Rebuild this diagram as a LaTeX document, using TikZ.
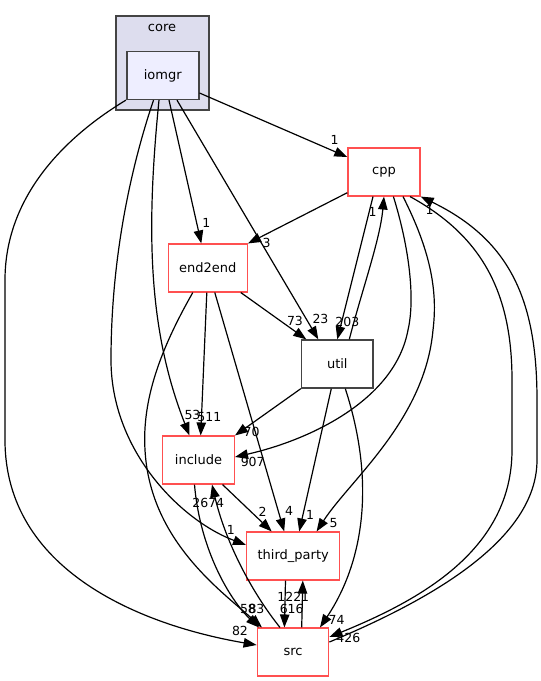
\documentclass[tikz,border=0pt]{standalone}
\usepackage{fontspec}
\setmainfont{DejaVu Sans}
\usetikzlibrary{arrows.meta}
\definecolor{dirred}{RGB}{255,80,80}
\definecolor{dirgray}{RGB}{68,68,68}
\definecolor{clusterfill}{RGB}{221,221,238}
\definecolor{innerfill}{RGB}{238,238,255}
\begin{document}
\begin{tikzpicture}[x=1pt,y=-1pt,
    dirbox/.style={draw=dirred, line width=1.4pt, inner sep=0pt, minimum height=47.7pt,
      font=\fontsize{13}{15}\selectfont},
    edge/.style={line width=1.2pt, -{Triangle[length=13pt,width=9.5pt]}},
    elabel/.style={inner sep=0pt, font=\fontsize{12.5}{14}\selectfont}]
    \useasboundingbox (0,0) rectangle (541,681);

    % Draw the cluster core with iomgr inside
    \node[draw=dirgray, fill=clusterfill, line width=1.6pt, minimum width=93pt, minimum height=94pt] (core) at (162.5,63) {};
    \node[font=\fontsize{13}{15}\selectfont] (corename) at (162,28) {core};
    \node[dirbox, draw=dirgray, fill=innerfill, line width=1.6pt, minimum width=72pt] (iomgr) at (162.7,75.5) {iomgr};

    % Draw the other directories
    \node[dirbox, minimum width=72pt] (cpp) at (384,172) {cpp};
    \node[dirbox, minimum width=79pt] (end2end) at (207.8,268) {end2end};
    \node[dirbox, draw=dirgray, line width=1.6pt, minimum width=71.3pt] (util) at (337.3,364) {util};
    \node[dirbox, minimum width=71.6pt] (include) at (198.5,460) {include};
    \node[dirbox, minimum width=93pt] (third_party) at (293.2,556) {third\_party};
    \node[dirbox, minimum width=71.4pt] (src) at (293,652) {src};

    % Draw the edges out of iomgr
    \draw[edge] ([yshift=-17.5pt]iomgr.east) -- ([yshift=15pt]cpp.west);
    \draw[edge] ([xshift=6.3pt]iomgr.south) -- ([xshift=-6.5pt]end2end.north);
    \draw[edge] ([xshift=14.3pt]iomgr.south) -- ([xshift=-19pt]util.north);
    \draw[edge] ([xshift=-3.7pt]iomgr.south) .. controls (146,230) and (148,330) .. ([xshift=-9pt]include.north);
    \draw[edge] ([xshift=-9.2pt]iomgr.south) .. controls (130,170) and (111,260) .. (111,360)
      .. controls (111,450) and (180,520) .. ([yshift=11pt]third_party.west);
    \draw[edge] (iomgr.south west) .. controls (60,140) and (5,200) .. (5,280) -- (5,440)
      .. controls (5,570) and (140,625) .. ([yshift=7pt]src.west);

    % Draw the edges out of cpp
    \draw[edge] ([yshift=-20.7pt]cpp.west) -- (end2end.north east);
    \draw[edge] ([xshift=-11pt]cpp.south) -- (util.north);
    \draw[edge] ([xshift=9.4pt]cpp.south) .. controls (410,250) and (415,300) .. (408,330)
      .. controls (395,400) and (310,440) .. ([yshift=3pt]include.east);
    \draw[edge] ([xshift=19pt]cpp.south) .. controls (430,250) and (438,290) .. (433,330)
      .. controls (425,420) and (350,480) .. ([xshift=23.4pt]third_party.north);
    \draw[edge] ([xshift=26pt]cpp.south) .. controls (480,235) and (512,290) .. (512,380) -- (512,450)
      .. controls (512,550) and (420,600) .. ([yshift=15pt]src.east);

    % Draw the edges out of end2end
    \draw[edge] ([xshift=33pt]end2end.south) -- ([xshift=-31pt]util.north);
    \draw[edge] ([xshift=-1pt]end2end.south) -- ([xshift=2.2pt]include.north);
    \draw[edge] ([xshift=7pt]end2end.south) -- ([xshift=-9pt]third_party.north);
    \draw[edge] ([xshift=-15pt]end2end.south) .. controls (160,350) and (142,400) .. (145,450)
      .. controls (150,540) and (220,590) .. ([xshift=-31pt]src.north);

    % Draw the edges out of util
    \draw[edge] ([xshift=12pt]util.north) .. controls (362,290) and (380,240) .. (cpp.south);
    \draw[edge] (util.south west) -- (include.north east);
    \draw[edge] ([xshift=-6pt]util.south) -- ([xshift=6pt]third_party.north);
    \draw[edge] ([xshift=8pt]util.south) .. controls (375,480) and (365,560) .. ([xshift=27pt]src.north);

    % Draw the edges out of include and third_party
    \draw[edge] ([xshift=24pt]include.south) -- ([xshift=-21.5pt]third_party.north);
    \draw[edge] ([xshift=-4pt]include.south) .. controls (200,550) and (230,600) .. ([xshift=-34pt]src.north);
    \draw[edge] ([xshift=-7.7pt]third_party.south) -- ([xshift=-8.6pt]src.north);

    % Draw the edges out of src
    \draw[edge] ([xshift=-13pt]src.north) .. controls (250,590) and (225,540) .. ([xshift=13.5pt]include.south);
    \draw[edge] ([xshift=8.7pt]src.north) -- ([xshift=9.6pt]third_party.south);
    \draw[edge] ([yshift=10pt]src.east) .. controls (430,600) and (537,540) .. (537,460) -- (537,400)
      .. controls (537,300) and (510,240) .. (cpp.south east);

    % Edge labels
    \node[elabel] (l-iomgr-cpp) at (334.5,139.5) {1};
    \node[elabel] (l-iomgr-end2end) at (206.3,223) {1};
    \node[elabel] (l-iomgr-util) at (320.5,319) {23};
    \node[elabel] (l-iomgr-include) at (192.5,415) {53};
    \node[elabel] (l-iomgr-third) at (230.8,530) {1};
    \node[elabel] (l-iomgr-src) at (240,631) {82};
    \node[elabel] (l-cpp-end2end) at (266.7,243.3) {3};
    \node[elabel] (l-cpp-util) at (347.3,322.3) {203};
    \node[elabel] (l-cpp-include) at (252.7,461.7) {907};
    \node[elabel] (l-cpp-third) at (333.7,522.7) {5};
    \node[elabel] (l-cpp-src) at (348.3,637.7) {426};
    \node[elabel] (l-end2end-util) at (295,321) {73};
    \node[elabel] (l-end2end-include) at (209.3,416.7) {511};
    \node[elabel] (l-end2end-third) at (289,510.7) {4};
    \node[elabel] (l-end2end-src) at (256.5,609) {83};
    \node[elabel] (l-util-cpp) at (372.7,211.7) {1};
    \node[elabel] (l-util-include) at (251.7,431.7) {70};
    \node[elabel] (l-util-third) at (310,515) {1};
    \node[elabel] (l-util-src) at (336.7,620) {74};
    \node[elabel] (l-include-third) at (262.7,511.7) {2};
    \node[elabel] (l-include-src) at (248,609) {58};
    \node[elabel] (l-third-src) at (291.7,609) {616};
    \node[elabel] (l-src-include) at (208.3,502.7) {2674};
    \node[elabel] (l-src-third) at (293.3,597.3) {1221};
    \node[elabel] (l-src-cpp) at (429.5,210) {1};

\end{tikzpicture}
\end{document}
